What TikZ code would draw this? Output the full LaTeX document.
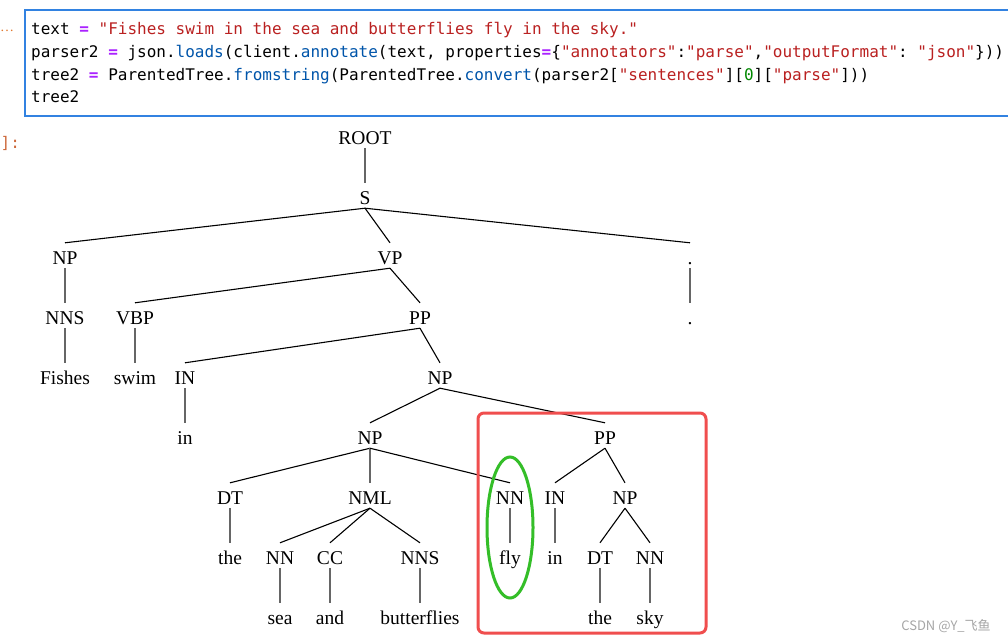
\documentclass[tikz,border=0pt]{standalone}
\usepackage{fontspec}
\setmainfont{Liberation Serif}
\setmonofont{DejaVu Sans Mono}
\newfontfamily\cjk{Noto Sans CJK SC}
\usepackage{xcolor}
\usepackage{tikz}
\usetikzlibrary{positioning}
\definecolor{cellblue}{RGB}{50,130,225}
\definecolor{codeop}{RGB}{170,34,255}
\definecolor{codestr}{RGB}{186,33,33}
\definecolor{codeattr}{RGB}{0,85,170}
\definecolor{codenum}{RGB}{0,136,0}
\definecolor{promptorange}{RGB}{225,120,45}
\definecolor{promptbrown}{RGB}{205,105,60}
\definecolor{boxred}{RGB}{240,78,78}
\definecolor{ringgreen}{RGB}{52,190,40}
\newcommand{\cop}[1]{\textcolor{codeop}{\textbf{#1}}}
\newcommand{\cstr}[1]{\textcolor{codestr}{#1}}
\newcommand{\cattr}[1]{\textcolor{codeattr}{#1}}
\newcommand{\cnum}[1]{\textcolor{codenum}{#1}}

\begin{document}
\begin{tikzpicture}[
    x=1pt, y=-1pt,
    code/.style={anchor=base west, inner sep=0pt,
                 font=\ttfamily\fontsize{16pt}{19pt}\selectfont},
    lbl/.style={anchor=base, inner sep=0pt, text height=21pt, text depth=4pt,
                font=\fontsize{19.5pt}{23pt}\selectfont},
    edge/.style={draw=black, line width=1.1pt},
    vline/.style={draw=black!60, line width=1.6pt},
    hilite/.style={draw=boxred, line width=3pt, rounded corners=6pt},
    ring/.style={draw=ringgreen, line width=3pt}
  ]
    \useasboundingbox (0,0) rectangle (1008,642);
    \fill[white] (0,0) rectangle (1008,642);
    % code cell
    \draw[cellblue, line width=1.4pt] (1010,10) -- (25,10) -- (25,116) -- (1010,116);
    \node[anchor=base west, inner sep=0pt, text=promptorange,
          font=\fontsize{14pt}{16pt}\selectfont] (dots) at (0,32) {…};
    \node[code, text=promptbrown] (outp) at (0.5,148) {]:};
    \node[code] (line1) at (31,35)
      {text \cop{=} \cstr{"Fishes swim in the sea and butterflies fly in the sky."}};
    \node[code] (line2) at (31,57.5)
      {parser2 \cop{=} json.\cattr{loads}(client.\cattr{annotate}(text, properties\cop{=}\{\cstr{"annotators"}:\cstr{"parse"},\cstr{"outputFormat"}: \cstr{"json"}\}))};
    \node[code] (line3) at (31,80)
      {tree2 \cop{=} ParentedTree.\cattr{fromstring}(ParentedTree.\cattr{convert}(parser2[\cstr{"sentences"}][\cnum{0}][\cstr{"parse"}]))};
    \node[code] (line4) at (31,102.5) {tree2};

    % parse tree
    \node[lbl] (root) at (365,144) {ROOT};
    \node[lbl] (s) at (365,204) {S};
    \node[lbl] (np) at (65,264) {NP};
    \node[lbl] (vp) at (390,264) {VP};
    \node[lbl] (dot) at (690,264) {.};
    \node[lbl] (nns) at (65,324) {NNS};
    \node[lbl] (vbp) at (135,324) {VBP};
    \node[lbl] (pp) at (420,324) {PP};
    \node[lbl] (dotw) at (690,324) {.};
    \node[lbl] (fishes) at (65,384) {Fishes};
    \node[lbl] (swim) at (135,384) {swim};
    \node[lbl] (inp) at (185,384) {IN};
    \node[lbl] (npa) at (440,384) {NP};
    \node[lbl] (inw) at (185,444) {in};
    \node[lbl] (npb) at (370,444) {NP};
    \node[lbl] (ppb) at (605,444) {PP};
    \node[lbl] (dt) at (230,504) {DT};
    \node[lbl] (nml) at (370,504) {NML};
    \node[lbl] (nnfly) at (510,504) {NN};
    \node[lbl] (inq) at (555,504) {IN};
    \node[lbl] (npc) at (625,504) {NP};
    \node[lbl] (the) at (230,564) {the};
    \node[lbl] (nnsea) at (280,564) {NN};
    \node[lbl] (cc) at (330,564) {CC};
    \node[lbl] (nnsb) at (420,564) {NNS};
    \node[lbl] (fly) at (510,564) {fly};
    \node[lbl] (inv) at (555,564) {in};
    \node[lbl] (dtb) at (600,564) {DT};
    \node[lbl] (nnsky) at (650,564) {NN};
    \node[lbl] (sea) at (280,624) {sea};
    \node[lbl] (and) at (330,624) {and};
    \node[lbl] (butterflies) at (420,624) {butterflies};
    \node[lbl] (theb) at (600,624) {the};
    \node[lbl] (sky) at (650,624) {sky};

    \draw[vline] (root.south) -- (s.north);
    \draw[edge] (s.south) -- (np.north);
    \draw[edge] (s.south) -- (vp.north);
    \draw[edge] (s.south) -- (dot.north);
    \draw[vline] (np.south) -- (nns.north);
    \draw[edge] (vp.south) -- (vbp.north);
    \draw[edge] (vp.south) -- (pp.north);
    \draw[vline] (dot.south) -- (dotw.north);
    \draw[vline] (nns.south) -- (fishes.north);
    \draw[vline] (vbp.south) -- (swim.north);
    \draw[edge] (pp.south) -- (inp.north);
    \draw[edge] (pp.south) -- (npa.north);
    \draw[vline] (inp.south) -- (inw.north);
    \draw[edge] (npa.south) -- (npb.north);
    \draw[edge] (npa.south) -- (ppb.north);
    \draw[edge] (npb.south) -- (dt.north);
    \draw[vline] (npb.south) -- (nml.north);
    \draw[edge] (npb.south) -- (nnfly.north);
    \draw[edge] (ppb.south) -- (inq.north);
    \draw[edge] (ppb.south) -- (npc.north);
    \draw[vline] (dt.south) -- (the.north);
    \draw[edge] (nml.south) -- (nnsea.north);
    \draw[edge] (nml.south) -- (cc.north);
    \draw[edge] (nml.south) -- (nnsb.north);
    \draw[vline] (nnfly.south) -- (fly.north);
    \draw[vline] (inq.south) -- (inv.north);
    \draw[edge] (npc.south) -- (dtb.north);
    \draw[edge] (npc.south) -- (nnsky.north);
    \draw[vline] (nnsea.south) -- (sea.north);
    \draw[vline] (cc.south) -- (and.north);
    \draw[vline] (nnsb.south) -- (butterflies.north);
    \draw[vline] (dtb.south) -- (theb.north);
    \draw[vline] (nnsky.south) -- (sky.north);

    % highlights
    \draw[hilite] (478,413) rectangle (706,633);
    \draw[ring] (510,527.5) ellipse [x radius=23, y radius=70.5];
    \node[inner sep=0pt, text=black!35, font=\cjk\fontsize{13pt}{15pt}\selectfont]
      (mark) at (946,626) {CSDN @Y\_飞鱼};
\end{tikzpicture}
\end{document}
